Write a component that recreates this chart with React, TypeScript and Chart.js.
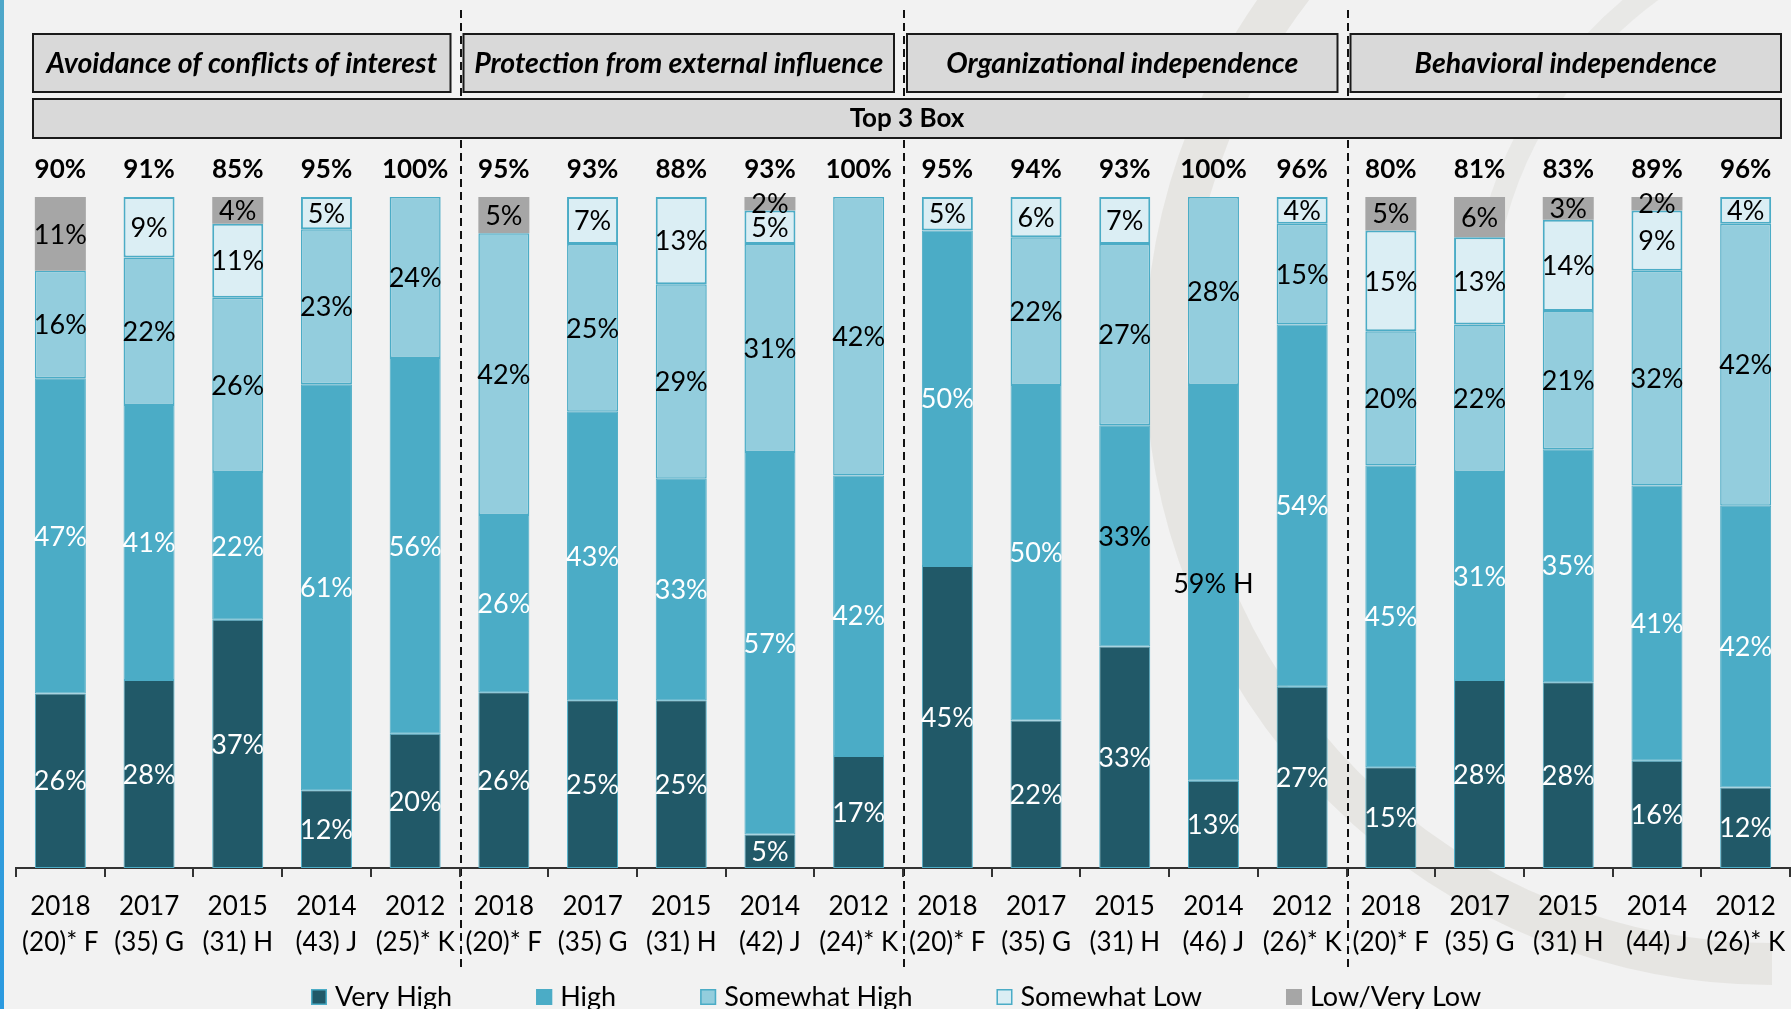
import React, { useEffect, useRef } from 'react';
import { Chart, registerables } from 'chart.js';

Chart.register(...registerables);

const FONT = 'Lato, "Open Sans", "DejaVu Sans", sans-serif';

// ---------- data ----------
const groupTitles = [
  'Avoidance of conflicts of interest',
  'Protection from external influence',
  'Organizational independence',
  'Behavioral independence',
];
const years = ['2018', '2017', '2015', '2014', '2012'];
const sampleLabels = [
  '(20)* F', '(35) G', '(31) H', '(43) J', '(25)* K',
  '(20)* F', '(35) G', '(31) H', '(42) J', '(24)* K',
  '(20)* F', '(35) G', '(31) H', '(46) J', '(26)* K',
  '(20)* F', '(35) G', '(31) H', '(44) J', '(26)* K',
];
const seriesNames = ['Very High', 'High', 'Somewhat High', 'Somewhat Low', 'Low/Very Low'];

const veryHigh = [26, 28, 37, 11.6, 20, 26.2, 25, 25, 5, 16.7, 45, 22, 33, 13, 27, 15, 28, 27.7, 16, 12];
const high = [47, 41, 22, 60.5, 56, 26.4, 43, 33, 57, 41.8, 50, 50, 33, 59, 54, 45, 31, 34.7, 41, 42];
const somewhatHigh = [16, 22, 26, 23.1, 24, 42, 25, 29, 31, 41.5, 0, 22, 27, 28, 15, 20, 22, 20.6, 32, 42];
const somewhatLow = [0, 9, 11, 4.8, 0, 0, 7, 13, 5, 0, 5, 6, 7, 0, 4, 15, 13, 13.6, 9, 4];
const lowVeryLow = [11, 0, 4, 0, 0, 5.4, 0, 0, 2, 0, 0, 0, 0, 0, 0, 5, 6, 3.4, 2, 0];
const top3Box = [90, 91, 85, 95, 100, 95, 93, 88, 93, 100, 95, 94, 93, 100, 96, 80, 81, 83, 89, 96];

// label text / colour exceptions seen in the picture (High series)
const highLabelOverrides: Record<number, string> = { 13: '59% H' };
const darkHighLabelIdx = [12, 13];

const categories = sampleLabels.map((s, i) => [years[i % 5], s]);

const fills = ['#215968', '#4bacc6', '#93cddd', '#dbeef4', '#a6a6a6'];
const borders = ['#4bacc6', '#4bacc6', '#4bacc6', '#4bacc6', '#a6a6a6'];
const borderWidths = [1, 1, 1.5, 2, 0];
const labelColors = ['#ffffff', '#ffffff', '#000000', '#000000', '#000000'];

const backgroundPlugin = {
  id: 'bgHeaders',
  beforeDraw(chart: any) {
    const { ctx, chartArea: ca, width, height } = chart;
    ctx.save();
    ctx.fillStyle = '#f2f2f2';
    ctx.fillRect(0, 0, width, height);

    // faint watermark ring
    ctx.strokeStyle = 'rgba(205,203,195,0.33)';
    ctx.lineWidth = 42;
    ctx.beginPath();
    ctx.arc(1772, 358, 606, Math.PI * 0.5, Math.PI * 1.5);
    ctx.stroke();
    ctx.lineWidth = 22;
    ctx.strokeStyle = 'rgba(205,203,195,0.25)';
    ctx.beginPath();
    ctx.arc(1900, 330, 420, Math.PI * 0.95, Math.PI * 1.45);
    ctx.stroke();

    const grd = ctx.createLinearGradient(0, 0, 0, height);
    grd.addColorStop(0, '#4ea7c9');
    grd.addColorStop(1, '#2b9ae0');
    ctx.fillStyle = grd;
    ctx.fillRect(0, 0, 4, height);

    const n = categories.length;
    const catW = (ca.right - ca.left) / n;
    // dashed separators
    ctx.setLineDash([8, 5]);
    ctx.lineWidth = 2;
    ctx.strokeStyle = '#111';
    for (let g = 1; g < groupTitles.length; g++) {
      const bx = Math.round(ca.left + 5 * g * catW) + 1;
      ctx.beginPath();
      ctx.moveTo(bx, 10);
      ctx.lineTo(bx, 968);
      ctx.stroke();
    }
    ctx.setLineDash([]);

    // group header boxes
    ctx.lineWidth = 2;
    ctx.strokeStyle = '#1a1a1a';
    ctx.textAlign = 'center';
    ctx.textBaseline = 'middle';
    for (let g = 0; g < groupTitles.length; g++) {
      const l = g === 0 ? ca.left + 17 : ca.left + 5 * g * catW + 4;
      const r = g === groupTitles.length - 1 ? ca.right - 9 : ca.left + 5 * (g + 1) * catW - 9;
      const t = 34, b = 92;
      ctx.fillStyle = '#d9d9d9';
      ctx.fillRect(l, t, r - l, b - t);
      ctx.strokeRect(l, t, r - l, b - t);
      ctx.fillStyle = '#000';
      ctx.font = `italic bold 28.5px ${FONT}`;
      ctx.fillText(groupTitles[g], (l + r) / 2, (t + b) / 2 + 1);
    }
    // Top 3 Box band
    const l2 = ca.left + 17, r2 = ca.right - 9;
    ctx.fillStyle = '#d9d9d9';
    ctx.fillRect(l2, 99, r2 - l2, 39);
    ctx.strokeRect(l2, 99, r2 - l2, 39);
    ctx.fillStyle = '#000';
    ctx.font = `bold 26px ${FONT}`;
    ctx.fillText('Top 3 Box', (l2 + r2) / 2, 119);
    ctx.restore();
  },
};

const labelPlugin = {
  id: 'segLabels',
  afterDatasetsDraw(chart: any) {
    const { ctx, chartArea: ca } = chart;
    ctx.save();
    ctx.textAlign = 'center';
    ctx.textBaseline = 'middle';
    ctx.font = `27px ${FONT}`;
    chart.data.datasets.forEach((ds: any, di: number) => {
      const meta = chart.getDatasetMeta(di);
      meta.data.forEach((el: any, i: number) => {
        const v = ds.data[i];
        if (!v) return;
        const p = el.getProps(['x', 'y', 'base'], true);
        let text = Math.round(v) + '%';
        let color = labelColors[di];
        if (di === 1) {
          if (highLabelOverrides[i]) text = highLabelOverrides[i];
          if (darkHighLabelIdx.includes(i)) color = '#000000';
        }
        ctx.fillStyle = color;
        ctx.fillText(text, p.x, (p.y + p.base) / 2 + 1);
      });
    });
    ctx.font = `bold 26px ${FONT}`;
    ctx.fillStyle = '#000';
    const meta0 = chart.getDatasetMeta(0);
    meta0.data.forEach((el: any, i: number) => {
      ctx.fillText(top3Box[i] + '%', el.x, ca.top - 27);
    });
    ctx.restore();
  },
};

const legendPlugin = {
  id: 'bottomLegend',
  afterDraw(chart: any) {
    const { ctx } = chart;
    ctx.save();
    ctx.font = `27px ${FONT}`;
    ctx.textBaseline = 'middle';
    ctx.textAlign = 'left';
    const box = 16, gapText = 8, gapItem = 84;
    const widths = seriesNames.map((s) => box + gapText + ctx.measureText(s).width);
    let x = 311;
    const cy = 997;
    seriesNames.forEach((s, i) => {
      ctx.fillStyle = fills[i];
      ctx.fillRect(x, cy - 8, box, box);
      if (i !== 4) {
        ctx.strokeStyle = borders[i];
        ctx.lineWidth = 1.5;
        ctx.strokeRect(x + 0.75, cy - 8 + 0.75, box - 1.5, box - 1.5);
      }
      ctx.fillStyle = '#000';
      ctx.fillText(s, x + box + gapText, cy);
      x += widths[i] + gapItem;
    });
    ctx.restore();
  },
};

export default function App() {
  const ref = useRef<HTMLCanvasElement | null>(null);
  useEffect(() => {
    if (!ref.current) return;
    const seriesData = [veryHigh, high, somewhatHigh, somewhatLow, lowVeryLow];
    const chart = new Chart(ref.current, {
      type: 'bar',
      data: {
        labels: categories,
        datasets: seriesNames.map((name, i) => ({
          label: name,
          data: seriesData[i],
          backgroundColor: fills[i],
          borderColor: borders[i],
          borderWidth: borderWidths[i],
          borderSkipped: false,
          categoryPercentage: 1,
          barPercentage: 0.575,
        })),
      },
      options: {
        animation: false,
        responsive: true,
        maintainAspectRatio: false,
        layout: { padding: { top: 197, left: 16, right: 1, bottom: 41 } },
        plugins: { legend: { display: false }, tooltip: { enabled: false }, title: { display: false } },
        scales: {
          x: {
            stacked: true,
            grid: { drawOnChartArea: false, tickLength: 9, color: '#333', lineWidth: 2, offset: true },
            border: { color: '#333', width: 2 },
            ticks: {
              color: '#000',
              padding: 12,
              maxRotation: 0,
              autoSkip: false,
              font: { family: FONT, size: 26, lineHeight: 1.38 },
            },
            afterFit: (s: any) => {
              s.height = 100;
              s.paddingLeft = 0;
              s.paddingRight = 0;
            },
          },
          y: { stacked: true, display: false, min: 0, max: 100 },
        },
      },
      plugins: [backgroundPlugin, labelPlugin, legendPlugin],
    } as any);
    return () => chart.destroy();
  }, []);
  return (
    <div style={{ position: 'fixed', left: 0, top: 0, width: 1791, height: 1009, overflow: 'hidden', background: '#f2f2f2' }}>
      <canvas ref={ref} />
    </div>
  );
}
